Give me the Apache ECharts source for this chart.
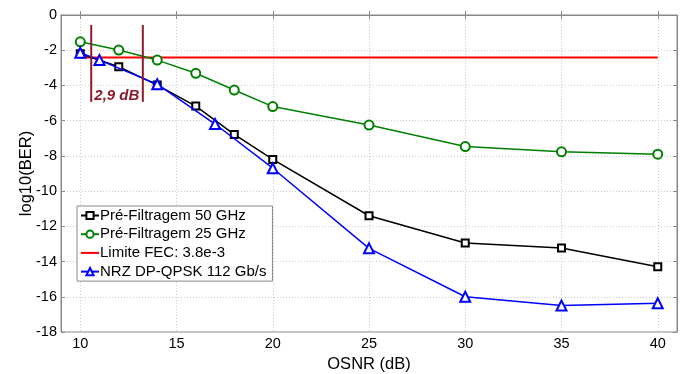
<!DOCTYPE html>
<html>
<head>
<meta charset="utf-8">
<script src="https://cdn.jsdelivr.net/npm/echarts@6/dist/echarts.min.js"></script>
<style>html,body{margin:0;padding:0;background:#fff}#c{width:688px;height:374px}</style>
</head>
<body>
<div id="c"></div>
<script>
var xTicks = [10, 15, 20, 25, 30, 35, 40];
var names = ['Pré-Filtragem 50 GHz', 'Pré-Filtragem 25 GHz', 'Limite FEC: 3.8e-3', 'NRZ DP-QPSK 112 Gb/s'];
var x50 = [10, 12, 14, 16, 18, 20, 25, 30, 35, 40];
var y50 = [-2.2, -2.94, -3.98, -5.17, -6.78, -8.2, -11.4, -12.95, -13.23, -14.3];
var x25 = [10, 12, 14, 16, 18, 20, 25, 30, 35, 40];
var y25 = [-1.52, -1.99, -2.56, -3.31, -4.26, -5.2, -6.25, -7.47, -7.77, -7.9];
var xFec = [10, 40];
var yFec = [-2.42, -2.42];
var xNrz = [10, 11, 14, 17, 20, 25, 30, 35, 40];
var yNrz = [-2.14, -2.56, -3.93, -6.19, -8.7, -13.25, -16.0, -16.5, -16.37];
var markX = [10.57, 13.25];
var markY = [-0.57, -4.93];
var labelText = '2,9 dB';
var labelPos = [11.9, -4.6];

function pairs(xs, ys) { return xs.map(function (x, i) { return [x, ys[i]]; }); }

var font = 'Liberation Sans, Arial, sans-serif';
var darkRed = '#8B1A2B';
var gray = '#888';
var chart = echarts.init(document.getElementById('c'));
var tickStyle = { show: true, inside: true, length: 4, lineStyle: { color: gray } };
chart.setOption({
  animation: false,
  backgroundColor: '#fff',
  grid: { left: 61, right: 11, top: 15, bottom: 42, show: true, borderColor: gray, borderWidth: 1,
    outerBoundsMode: 'none', containLabel: false },
  xAxis: [{
    type: 'value', min: 9, max: 41,
    name: 'OSNR (dB)', nameLocation: 'middle', nameGap: 20,
    nameTextStyle: { color: '#000', fontSize: 16.5, fontFamily: font },
    axisLine: { show: true, lineStyle: { color: gray } },
    axisTick: Object.assign({ customValues: xTicks }, tickStyle),
    axisLabel: { customValues: xTicks, color: '#000', fontSize: 14.5, fontFamily: font, margin: 4 },
    splitLine: { show: true, lineStyle: { color: '#ccc', type: [1, 2] } }
  }, {
    type: 'value', min: 9, max: 41, position: 'top',
    axisLine: { show: true, lineStyle: { color: gray } },
    axisTick: Object.assign({ customValues: xTicks }, tickStyle),
    axisLabel: { show: false, customValues: xTicks },
    splitLine: { show: false }
  }],
  yAxis: [{
    type: 'value', min: -18, max: 0, interval: 2,
    name: 'log10(BER)', nameLocation: 'middle', nameGap: 26, nameRotate: 90, nameMoveOverlap: false,
    nameTextStyle: { color: '#000', fontSize: 16.5, fontFamily: font },
    axisLine: { show: true, lineStyle: { color: gray } },
    axisTick: tickStyle,
    axisLabel: { color: '#000', fontSize: 14.5, fontFamily: font, margin: 4 },
    splitLine: { show: true, lineStyle: { color: '#ccc', type: [1, 2] } }
  }, {
    type: 'value', min: -18, max: 0, interval: 2, position: 'right',
    axisLine: { show: true, lineStyle: { color: gray } },
    axisTick: tickStyle,
    axisLabel: { show: false },
    splitLine: { show: false }
  }],
  legend: {
    orient: 'vertical', left: 77, top: 206,
    data: [names[0], names[1], { name: names[2], icon: 'path://M0,0H18V2H0Z' }, names[3]],
    backgroundColor: '#fff', borderColor: gray, borderWidth: 1,
    padding: [2, 6, 2, 3], itemGap: 3.7, itemWidth: 18, itemHeight: 9,
    textStyle: { color: '#000', fontSize: 15, fontFamily: font, padding: [0, 0, 0, -4] }
  },
  series: [
    { name: names[0], type: 'line', data: pairs(x50, y50), symbol: 'emptyRect', symbolSize: 7,
      color: '#000', lineStyle: { width: 1.5, color: '#000' }, itemStyle: { color: '#000', borderWidth: 1.5 }, z: 3 },
    { name: names[1], type: 'line', data: pairs(x25, y25), symbol: 'emptyCircle', symbolSize: 9,
      color: '#008000', lineStyle: { width: 1.5, color: '#008000' }, itemStyle: { color: '#008000', borderWidth: 1.5 }, z: 3 },
    { name: names[2], type: 'line', data: pairs(xFec, yFec), symbol: 'none', showSymbol: false,
      color: '#ff0000', lineStyle: { width: 2, color: '#ff0000' }, z: 2 },
    { name: names[3], type: 'line', data: pairs(xNrz, yNrz), symbol: 'emptyTriangle', symbolSize: 10,
      color: '#0000ff', lineStyle: { width: 1.5, color: '#0000ff' }, itemStyle: { color: '#0000ff', borderWidth: 1.5 }, z: 4 },
    { name: 'mark1', type: 'line', data: [[markX[0], markY[0]], [markX[0], markY[1]]], symbol: 'none',
      lineStyle: { width: 2, color: darkRed }, z: 5, silent: true },
    { name: 'mark2', type: 'line', data: [[markX[1], markY[0]], [markX[1], markY[1]]], symbol: 'none',
      lineStyle: { width: 2, color: darkRed }, z: 5, silent: true },
    { name: 'label', type: 'scatter', data: [labelPos], symbol: 'circle', symbolSize: 0, z: 6, silent: true,
      itemStyle: { opacity: 1, color: darkRed },
      label: { show: true, position: 'inside', formatter: labelText, color: darkRed, fontSize: 15, opacity: 1,
        textBorderWidth: 0, fontWeight: 'bold', fontStyle: 'italic', fontFamily: font } }
  ]
});
</script>
</body>
</html>
